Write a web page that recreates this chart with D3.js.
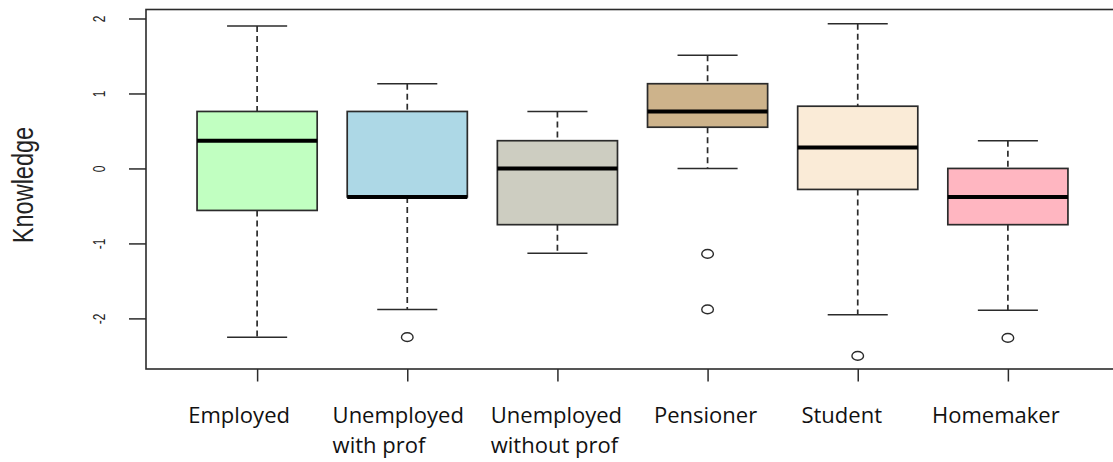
<!DOCTYPE html>
<html>
<head>
<meta charset="utf-8">
<script src="https://cdn.jsdelivr.net/npm/d3@7"></script>
<style>
  body { margin: 0; background: #fff; }
  svg { display: block; }
</style>
</head>
<body>
<div id="chart"></div>
<script>
  // groups, one box each
  const categories = ["Employed", "Unemployed\nwith prof", "Unemployed\nwithout prof", "Pensioner", "Student", "Homemaker"];
  const whiskerLow = [-2.25, -1.88, -1.13, 0.00, -1.95, -1.89];
  const q1 = [-0.56, -0.38, -0.75, 0.55, -0.28, -0.75];
  const median = [0.37, -0.38, 0.00, 0.76, 0.28, -0.38];
  const q3 = [0.76, 0.76, 0.37, 1.13, 0.83, 0.00];
  const whiskerHigh = [1.90, 1.13, 0.76, 1.51, 1.93, 0.37];
  const outliers = [[], [-2.25], [], [-1.14, -1.88], [-2.5], [-2.26]];
  const yTicks = [-2, -1, 0, 1, 2];

  const fills = ["#C1FFC1", "#ADD8E6", "#CDCDC1", "#CDB38B", "#FAEBD7", "#FFB6C1"];
  // labels were placed by hand in the original, not exactly under the ticks
  const labelNudge = [-18, -9, -1, -2, -16, -12];

  const width = 1113;
  const height = 462;
  const plot = { left: 146, top: 9.5, right: 1119, bottom: 369 };
  const ink = "#2b2b2b";

  const data = categories.map((c, i) => ({
    name: c, i: i + 1,
    lo: whiskerLow[i], q1: q1[i], med: median[i], q3: q3[i], hi: whiskerHigh[i],
    out: outliers[i], fill: fills[i]
  }));

  const x = d3.scaleLinear().domain([0.26, 6.74]).range([plot.left, plot.right]);
  const y = d3.scaleLinear().domain([-2.675, 2.12]).range([plot.bottom, plot.top]);
  const boxW = (x(1.4) - x(0.6));
  const capW = boxW / 2;

  const svg = d3.select("#chart").append("svg")
    .attr("width", width)
    .attr("height", height);

  // y axis, R style (rotated labels)
  const yAxis = svg.append("g")
    .attr("transform", `translate(${plot.left},0)`)
    .call(d3.axisLeft(y).tickValues(yTicks).tickSize(17).tickFormat(d => d.toString()));
  yAxis.select(".domain").remove();
  yAxis.selectAll(".tick line").attr("stroke", ink).attr("stroke-width", 1.5);
  yAxis.selectAll(".tick text")
    .attr("x", null).attr("dy", null)
    .attr("text-anchor", "middle")
    .attr("transform", "translate(-41,0) rotate(-90) scale(1,1.3)")
    .style("font-family", "'Liberation Sans', Arial, sans-serif")
    .style("font-size", "12px")
    .attr("fill", "#222");

  // x axis ticks
  const xAxis = svg.append("g")
    .attr("transform", `translate(0,${plot.bottom})`)
    .call(d3.axisBottom(x).tickValues(data.map(d => d.i)).tickSize(12.5).tickFormat(""));
  xAxis.select(".domain").remove();
  xAxis.selectAll(".tick line").attr("stroke", ink).attr("stroke-width", 1.5);

  // category labels, one or two lines
  const labels = svg.append("g")
    .style("font-family", "'Open Sans', sans-serif")
    .style("font-size", "22px")
    .attr("fill", "#111");
  data.forEach((d, k) => {
    const lines = d.name.split("\n");
    const t = labels.append("text").attr("y", 423);
    lines.forEach((ln, j) => {
      t.append("tspan").attr("y", 423 + j * 30).text(ln);
    });
    const w = t.select("tspan").node().getComputedTextLength();
    t.selectAll("tspan").attr("x", x(d.i) + labelNudge[k] - w / 2);
  });

  // y title
  svg.append("text")
    .attr("transform", "translate(33,185) rotate(-90) scale(1,1.25)")
    .attr("text-anchor", "middle")
    .style("font-family", "'Liberation Sans', Arial, sans-serif")
    .style("font-size", "23.5px")
    .attr("fill", "#222")
    .text("Knowledge");

  const g = svg.append("g");
  const box = g.selectAll(".box").data(data).enter().append("g").attr("class", "box");

  // whiskers
  box.append("line")
    .attr("x1", d => x(d.i)).attr("x2", d => x(d.i))
    .attr("y1", d => y(d.hi)).attr("y2", d => y(d.q3))
    .attr("stroke", ink).attr("stroke-width", 1.7).attr("stroke-dasharray", "6,4");
  box.append("line")
    .attr("x1", d => x(d.i)).attr("x2", d => x(d.i))
    .attr("y1", d => y(d.q1)).attr("y2", d => y(d.lo))
    .attr("stroke", ink).attr("stroke-width", 1.7).attr("stroke-dasharray", "6,4");
  // staples
  box.append("line")
    .attr("x1", d => x(d.i) - capW / 2).attr("x2", d => x(d.i) + capW / 2)
    .attr("y1", d => y(d.hi)).attr("y2", d => y(d.hi))
    .attr("stroke", ink).attr("stroke-width", 1.5);
  box.append("line")
    .attr("x1", d => x(d.i) - capW / 2).attr("x2", d => x(d.i) + capW / 2)
    .attr("y1", d => y(d.lo)).attr("y2", d => y(d.lo))
    .attr("stroke", ink).attr("stroke-width", 1.5);

  // boxes
  box.append("rect")
    .attr("x", d => x(d.i) - boxW / 2)
    .attr("width", boxW)
    .attr("y", d => y(d.q3))
    .attr("height", d => y(d.q1) - y(d.q3))
    .attr("fill", d => d.fill)
    .attr("stroke", ink).attr("stroke-width", 1.7);
  // medians
  box.append("line")
    .attr("x1", d => x(d.i) - boxW / 2).attr("x2", d => x(d.i) + boxW / 2)
    .attr("y1", d => y(d.med)).attr("y2", d => y(d.med))
    .attr("stroke", "#000").attr("stroke-width", 4);

  // outliers
  box.selectAll("ellipse")
    .data(d => d.out.map(v => ({ i: d.i, v })))
    .enter().append("ellipse")
    .attr("cx", d => x(d.i))
    .attr("cy", d => y(d.v))
    .attr("rx", 5.8).attr("ry", 4.4)
    .attr("fill", "none")
    .attr("stroke", ink).attr("stroke-width", 1.4);

  // frame
  svg.append("rect")
    .attr("x", plot.left).attr("y", plot.top)
    .attr("width", plot.right - plot.left)
    .attr("height", plot.bottom - plot.top)
    .attr("fill", "none")
    .attr("stroke", ink).attr("stroke-width", 1.6);
</script>
</body>
</html>
